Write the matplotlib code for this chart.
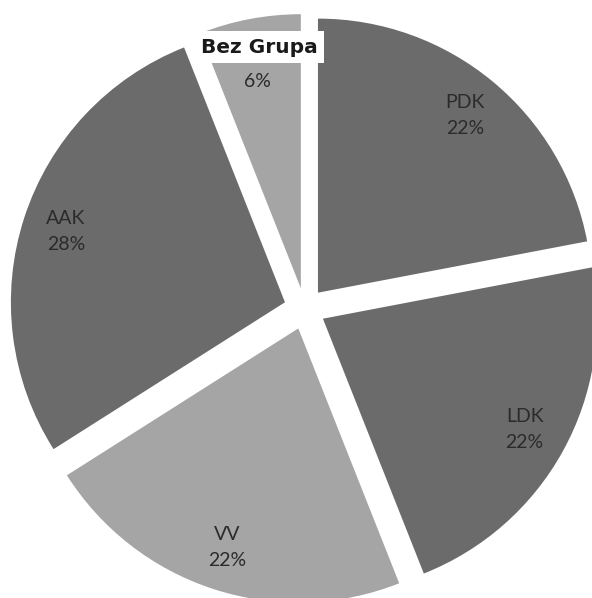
import matplotlib.pyplot as plt

# Dados
categorias = ['PDK', 'LDK', 'VV', 'AAK', 'Bez Grupa']
valores = [22, 22, 22, 28, 6]
cores = ['#6b6b6b', '#6b6b6b', '#a5a5a5', '#6b6b6b', '#a5a5a5']
afastamento = [0.075, 0.075, 0.075, 0.075, 0.075]

fig = plt.figure(figsize=(5.92, 5.98), dpi=100)
ax = fig.add_axes([0, 0, 1, 1])

rotulos = [f'{c}\n{v}%' for c, v in zip(categorias, valores)]
wedges, textos = ax.pie(valores, labels=rotulos, colors=cores, explode=afastamento,
                        startangle=90, counterclock=False, labeldistance=0.84,
                        radius=0.99, wedgeprops=dict(linewidth=0))
for t in textos:
    t.set_ha('center')
    t.set_va('center')
    t.set_fontsize(14)
    t.set_family('Lato')
    t.set_color('#2b2b2b')
    t.set_linespacing(1.65)

# a fatia pequena: só a percentagem, o nome vai numa caixa branca por cima
x6, y6 = textos[4].get_position()
textos[4].set_text(f'{valores[4]}%')
textos[4].set_position((x6, y6 - 0.07))
ax.text(-0.165, 0.945, categorias[4], ha='center', va='center', fontsize=14.5,
        fontweight='bold', family='DejaVu Sans', color='#1a1a1a',
        bbox=dict(facecolor='white', edgecolor='none', pad=5))

ax.set_xlim(-1.10, 1.037)
ax.set_ylim(-1.045, 1.115)
ax.set_aspect('equal')
ax.axis('off')

fig.savefig('out.png', dpi=100)
